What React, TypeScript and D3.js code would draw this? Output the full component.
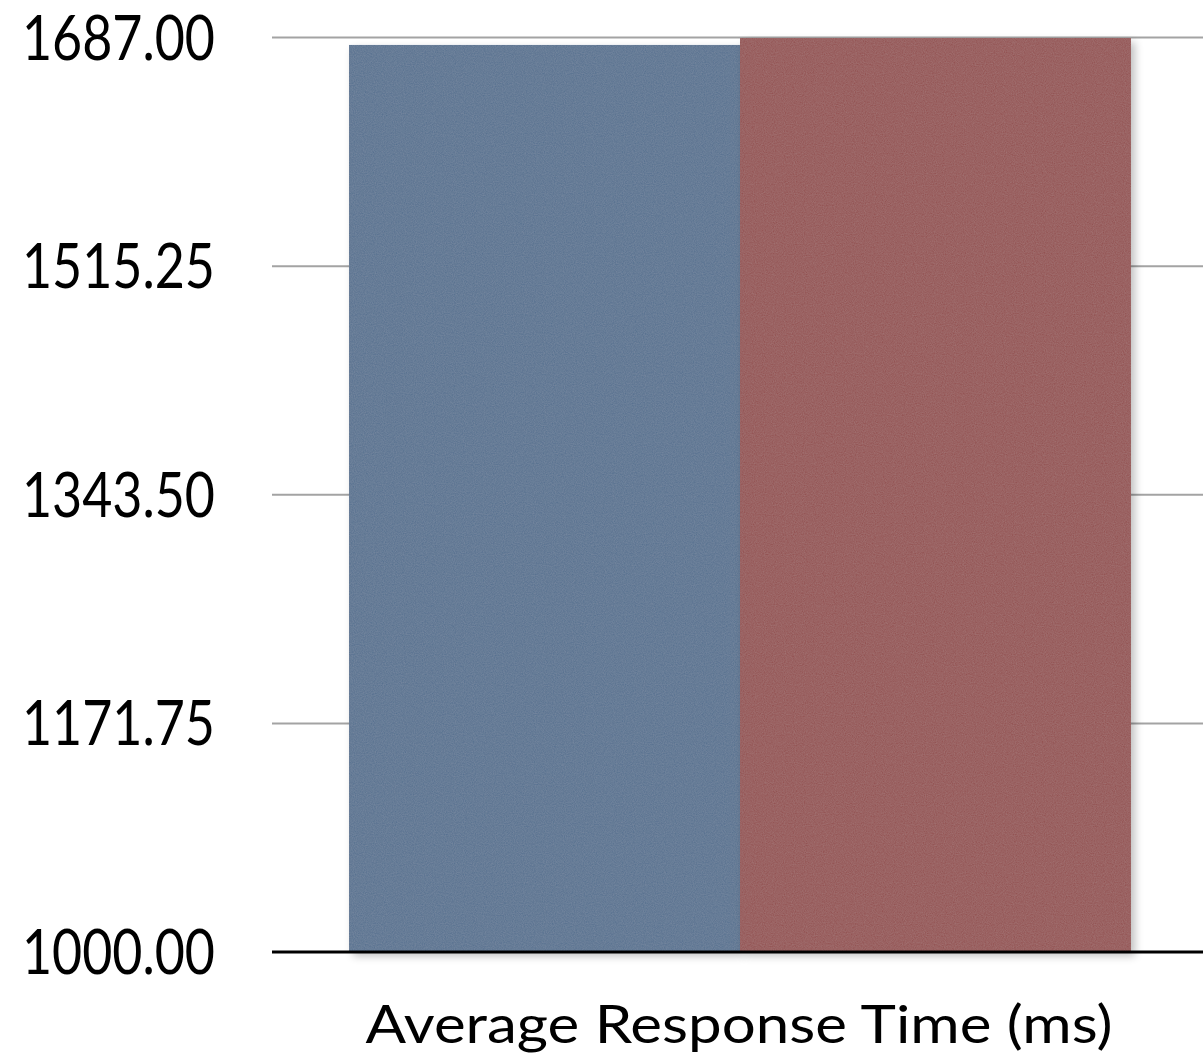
import React, { useRef, useEffect } from 'react';
import * as d3 from 'd3';

const categories = ['Average Response Time (ms)'];
const seriesNames = ['Before', 'After'];
const seriesValues = [1681.4, 1686.6];
const seriesColors = ['#55708f', '#93504f'];
const tickValues = [1000, 1171.75, 1343.5, 1515.25, 1687];

const W = 1203;
const H = 1058;

function App() {
  const ref = useRef<SVGSVGElement>(null);

  useEffect(() => {
    const svg = d3.select(ref.current);
    svg.selectAll('*').remove();

    const margin = { top: 37.5, right: 0, bottom: 106, left: 272 };

    const defs = svg.append('defs');
    // paper-ish texture + soft shadow on the bars
    const f = defs.append('filter').attr('id', 'tex')
      .attr('x', '-5%').attr('y', '-5%').attr('width', '115%').attr('height', '115%');
    f.append('feTurbulence').attr('type', 'fractalNoise')
      .attr('baseFrequency', 0.9).attr('numOctaves', 2).attr('seed', 3).attr('result', 'noise');
    f.append('feColorMatrix').attr('in', 'noise').attr('type', 'matrix')
      .attr('values', '0 0 0 0 1  0 0 0 0 1  0 0 0 0 1  0 0 0 0.1 0').attr('result', 'light');
    f.append('feComposite').attr('in', 'light').attr('in2', 'SourceAlpha').attr('operator', 'in').attr('result', 'lightIn');
    f.append('feGaussianBlur').attr('in', 'SourceAlpha').attr('stdDeviation', 4).attr('result', 'blur');
    f.append('feOffset').attr('in', 'blur').attr('dx', 4).attr('dy', 4).attr('result', 'off');
    f.append('feComponentTransfer').attr('in', 'off').attr('result', 'shadow')
      .append('feFuncA').attr('type', 'linear').attr('slope', 0.25);
    const m = f.append('feMerge');
    m.append('feMergeNode').attr('in', 'shadow');
    m.append('feMergeNode').attr('in', 'SourceGraphic');
    m.append('feMergeNode').attr('in', 'lightIn');

    const y = d3.scaleLinear()
      .domain([tickValues[0], tickValues[tickValues.length - 1]])
      .range([H - margin.bottom, margin.top]);

    const x0 = d3.scaleBand()
      .domain(categories)
      .range([margin.left, W + 5])
      .paddingInner(0)
      .paddingOuter(0.0985);

    const x1 = d3.scaleBand()
      .domain(seriesNames)
      .range([0, x0.bandwidth()]);

    // gridlines
    svg.append('g')
      .selectAll('line')
      .data(tickValues.slice(1))
      .join('line')
      .attr('x1', margin.left)
      .attr('x2', W)
      .attr('y1', d => y(d))
      .attr('y2', d => y(d))
      .attr('stroke', '#a3a3a3')
      .attr('stroke-width', 2);

    // bars
    const g = svg.append('g');
    categories.forEach(cat => {
      g.selectAll('rect')
        .data(seriesNames)
        .join('rect')
        .attr('x', (d) => (x0(cat) as number) + (x1(d) as number))
        .attr('width', x1.bandwidth())
        .attr('y', (d, i) => y(seriesValues[i]))
        .attr('height', (d, i) => y(tickValues[0]) - y(seriesValues[i]))
        .attr('fill', (d, i) => seriesColors[i])
        .attr('filter', 'url(#tex)');
    });

    // base line
    svg.append('line')
      .attr('x1', margin.left)
      .attr('x2', W)
      .attr('y1', y(tickValues[0]))
      .attr('y2', y(tickValues[0]))
      .attr('stroke', '#000')
      .attr('stroke-width', 3);

    // y labels
    svg.append('g')
      .selectAll('text')
      .data(tickValues)
      .join('text')
      .attr('x', 215)
      .attr('y', d => y(d) + 22)
      .attr('text-anchor', 'end')
      .attr('font-family', 'Lato, sans-serif')
      .attr('font-size', 61)
      .attr('textLength', 193)
      .attr('lengthAdjust', 'spacingAndGlyphs')
      .attr('fill', '#000')
      .text(d => d3.format('.2f')(d));

    // x label
    svg.append('g')
      .selectAll('text')
      .data(categories)
      .join('text')
      .attr('x', d => (x0(d) as number) + x0.bandwidth() / 2 - 1)
      .attr('y', 1043)
      .attr('text-anchor', 'middle')
      .attr('font-family', 'Lato, sans-serif')
      .attr('font-size', 53)
      .attr('textLength', 747)
      .attr('lengthAdjust', 'spacingAndGlyphs')
      .attr('fill', '#000')
      .text(d => d);
  }, []);

  return (
    <div>
      <svg ref={ref} width={W} height={H}
        style={{ position: 'absolute', left: 0, top: 0, background: '#fff' }}></svg>
    </div>
  );
}

export default App;
